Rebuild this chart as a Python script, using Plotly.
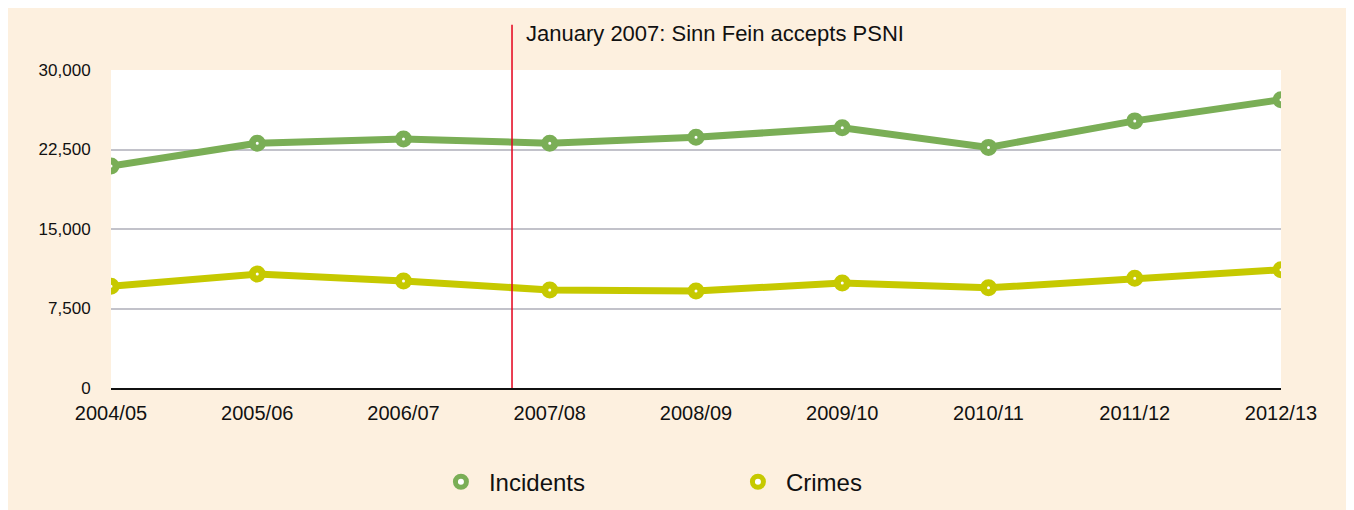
import plotly.graph_objects as go

categories = ["2004/05", "2005/06", "2006/07", "2007/08", "2008/09",
              "2009/10", "2010/11", "2011/12", "2012/13"]
incidents = [20950, 23100, 23500, 23100, 23650, 24550, 22700, 25200, 27200]
crimes = [9600, 10750, 10100, 9250, 9150, 9900, 9450, 10350, 11150]
y_ticks = [0, 7500, 15000, 22500, 30000]
event_label = "January 2007: Sinn Fein accepts PSNI"
event_pos = 2.742  # position between 2006/07 and 2007/08 (category index units)

GREEN = "#7aae56"
YELLOW = "#c6c900"
CREAM = "#fdf0df"
FONT = "Liberation Sans, Arial, Helvetica, sans-serif"

x_idx = list(range(len(categories)))

fig = go.Figure()
for name, vals, col in [("Incidents", incidents, GREEN), ("Crimes", crimes, YELLOW)]:
    fig.add_trace(go.Scatter(
        x=x_idx, y=vals, mode="lines+markers", name=name,
        line=dict(color=col, width=7),
        marker=dict(size=10, color="white", line=dict(color=col, width=7)),
        showlegend=False, hoverinfo="x+y",
    ))
    fig.add_trace(go.Scatter(
        x=[None], y=[None], mode="markers", name=name,
        marker=dict(size=11, color="white", line=dict(color=col, width=5)),
        showlegend=True,
    ))

frac = event_pos / (len(categories) - 1)
fig.add_shape(type="line", xref="paper", yref="paper",
              x0=frac, x1=frac, y0=0, y1=1.142,
              line=dict(color="#e4001b", width=1.5), layer="above")
fig.add_annotation(xref="paper", yref="paper", x=frac, y=1.116,
                   xshift=12, xanchor="left", yanchor="middle",
                   text=event_label, showarrow=False,
                   font=dict(size=22, color="#111111", family=FONT))

fig.update_layout(
    width=1354, height=510,
    margin=dict(l=103, r=81, t=62, b=130),
    paper_bgcolor=CREAM, plot_bgcolor="white",
    font=dict(family=FONT, size=18, color="#111111"),
    showlegend=True,
    legend=dict(orientation="h", x=0.529, xanchor="center", y=-0.296, yanchor="middle",
                font=dict(size=24), entrywidth=236, entrywidthmode="pixels",
                itemwidth=46, bgcolor="rgba(0,0,0,0)"),
    xaxis=dict(range=[0, len(categories) - 1], tickmode="array",
               tickvals=x_idx, ticktext=categories, showgrid=False,
               zeroline=False, showline=True, linecolor="#111111", linewidth=2,
               ticks="outside", ticklen=6, tickcolor="rgba(0,0,0,0)",
               tickfont=dict(size=20)),
    yaxis=dict(range=[0, 30000], tickmode="array", tickvals=y_ticks,
               tickformat=",", showgrid=True, gridcolor="#c2c2ca", gridwidth=2,
               zeroline=False, showline=False, ticks="outside", ticklen=16,
               tickcolor="rgba(0,0,0,0)", tickfont=dict(size=17)),
)

fig.write_html("out.html")
